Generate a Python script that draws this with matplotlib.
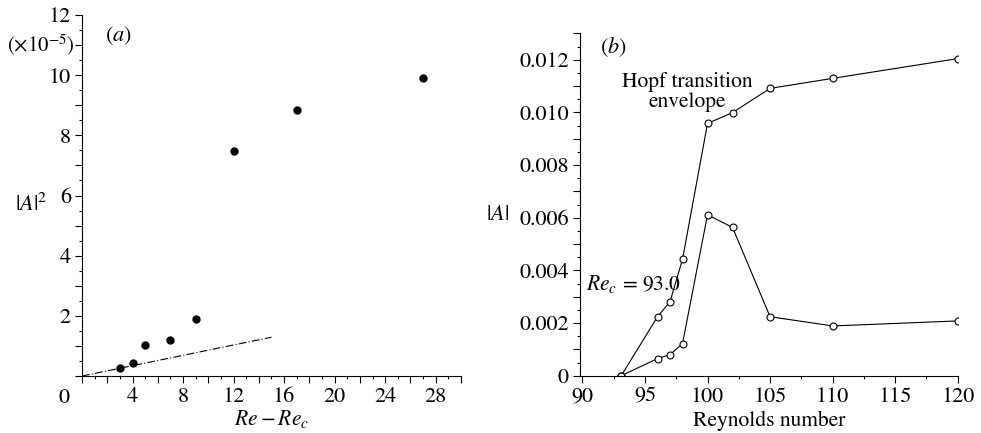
import numpy as np
import matplotlib
matplotlib.use("Agg")
import matplotlib.pyplot as plt
from matplotlib.ticker import MultipleLocator, FuncFormatter

plt.rcParams['font.family'] = ['STIXGeneral', 'DejaVu Serif']
plt.rcParams['mathtext.fontset'] = 'stix'
plt.rcParams['font.size'] = 16

# panel (a): |A|^2 (x1e-5) against Re - Re_c
dre = [3, 4, 5, 7, 9, 12, 17, 27]
amp_sq = [0.25, 0.42, 1.02, 1.21, 1.88, 7.49, 8.84, 9.92]
fit_x = [0, 15]
fit_y = [0, 1.29]

# panel (b): |A| against Reynolds number
re_env = [93.1, 96, 97, 98, 100, 102, 105, 110, 120]
amp_env = [0, 0.00224, 0.00281, 0.00442, 0.00958, 0.00999, 0.01091, 0.01129, 0.01204]
re_low = [93.1, 96, 97, 98, 100, 102, 105, 110, 120]
amp_low = [0, 0.00065, 0.00080, 0.00122, 0.00611, 0.00563, 0.00224, 0.00189, 0.00208]

fig = plt.figure(figsize=(9.81, 4.33), dpi=100)
ax1 = fig.add_axes([0.0836, 0.1316, 0.3863, 0.8337])
ax2 = fig.add_axes([0.5912, 0.1323, 0.385, 0.7907])

for ax in (ax1, ax2):
    ax.spines['top'].set_visible(False)
    ax.spines['right'].set_visible(False)
    ax.tick_params(which='major', direction='out', length=5, width=0.8, labelsize=16, pad=3)
    ax.tick_params(which='minor', direction='out', length=2.5, width=0.8)

# (a)
ax1.plot(dre, amp_sq, 'o', color='black', markersize=5)
ax1.plot(fit_x, fit_y, color='black', lw=0.8, linestyle=(0, (7, 2, 1, 2)))
ax1.set_xlim(0, 30)
ax1.set_ylim(0, 12)
ax1.xaxis.set_major_locator(MultipleLocator(2))
ax1.xaxis.set_minor_locator(MultipleLocator(1))
ax1.yaxis.set_major_locator(MultipleLocator(1))
ax1.yaxis.set_minor_locator(MultipleLocator(0.5))
ax1.xaxis.set_major_formatter(FuncFormatter(lambda v, p: '%d' % v if v > 0 and int(round(v)) % 4 == 0 else ''))
ax1.yaxis.set_major_formatter(FuncFormatter(lambda v, p: '%d' % v if v > 0 and int(round(v)) % 2 == 0 else ''))
ax1.text(-1.4, -0.4, '0', ha='center', va='top', fontsize=16)
ax1.set_xlabel(r'$Re - Re_c$', fontsize=15.5, labelpad=1)
ax1.text(-0.6, 11.0, r'($\times$10$^{-5}$)', ha='right', va='center', fontsize=15)
ax1.text(-4.0, 5.7, r'$|A|^2$', ha='center', va='center', fontsize=16)
ax1.text(1.8, 11.3, r'$(a)$', ha='left', va='center', fontsize=16)

# (b)
ax2.plot(re_env, amp_env, '-o', color='black', lw=0.8, markersize=5,
         markerfacecolor='white', markeredgewidth=0.8)
ax2.plot(re_low, amp_low, '-o', color='black', lw=0.8, markersize=5,
         markerfacecolor='white', markeredgewidth=0.8)
ax2.set_xlim(89.8, 120)
ax2.set_ylim(0, 0.013)
ax2.xaxis.set_major_locator(MultipleLocator(5))
ax2.xaxis.set_minor_locator(MultipleLocator(2.5))
ax2.yaxis.set_major_locator(MultipleLocator(0.001))
ax2.yaxis.set_minor_locator(MultipleLocator(0.0005))
ax2.yaxis.set_major_formatter(FuncFormatter(
    lambda v, p: ('0' if abs(v) < 1e-9 else '%.3f' % v) if int(round(v * 1000)) % 2 == 0 and v < 0.0125 else ''))
ax2.set_xlabel('Reynolds number', fontsize=15.5, labelpad=3)
ax2.text(83.2, 0.0061, r'$|A|$', ha='center', va='center', fontsize=16)
ax2.text(91.4, 0.01248, r'$(b)$', ha='left', va='center', fontsize=16)
ax2.text(98.4, 0.01077, 'Hopf transition\nenvelope', ha='center', va='center',
         fontsize=15.5, linespacing=1.0)
ax2.text(90.3, 0.0035, r'$Re_c$ = 93.0', ha='left', va='center', fontsize=15.5)

fig.savefig('out.png', dpi=100)
